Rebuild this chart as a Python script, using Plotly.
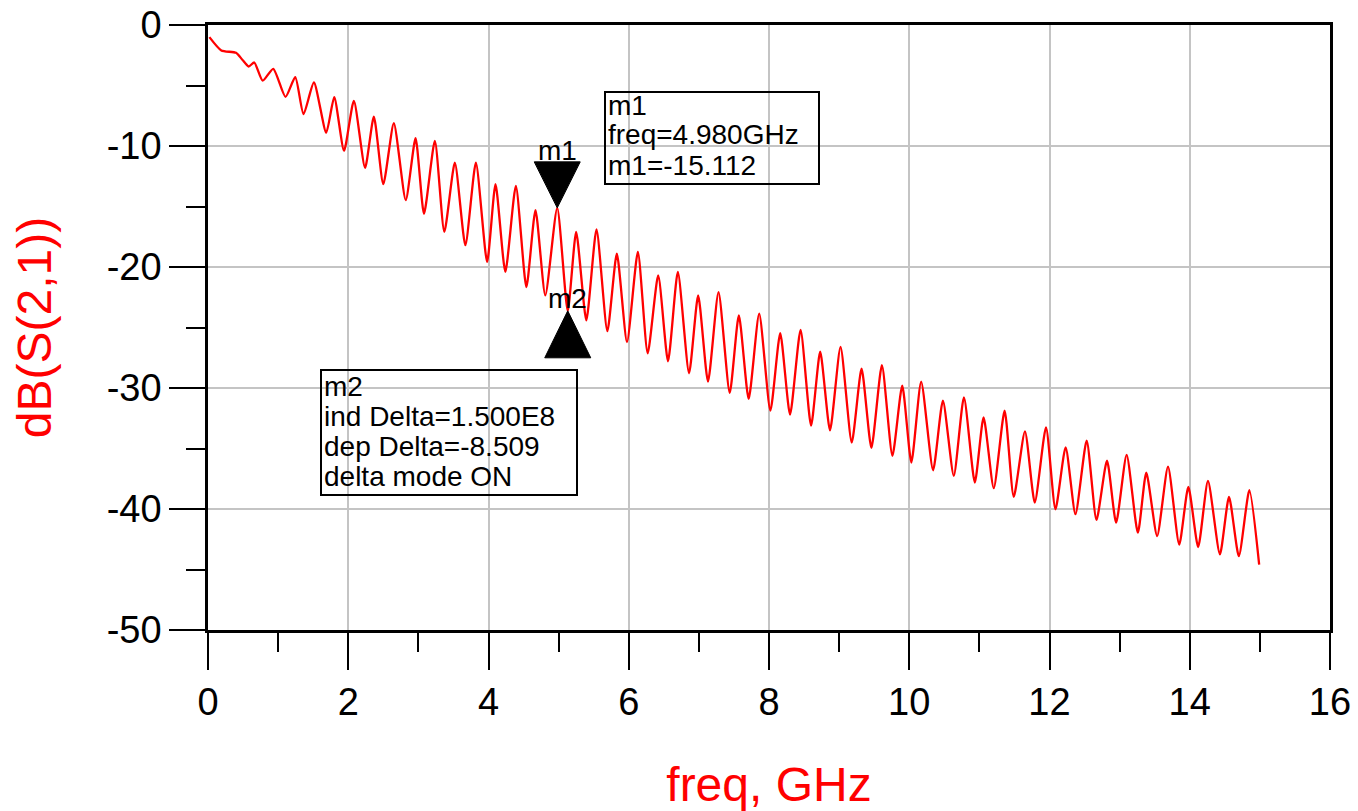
import plotly.graph_objects as go

# ---------------- data ----------------
freq_ghz = [
    0.02, 0.19, 0.40, 0.49, 0.58, 0.66, 0.78, 0.93, 1.105, 1.244,
    1.362, 1.51, 1.686, 1.80, 1.94, 2.08, 2.24, 2.365, 2.50, 2.65,
    2.82, 2.96, 3.08, 3.235, 3.37, 3.52, 3.67, 3.82, 3.98, 4.10,
    4.24, 4.39, 4.54, 4.67, 4.81, 4.98, 5.13, 5.25, 5.395, 5.54,
    5.695, 5.83, 5.975, 6.13, 6.27, 6.42, 6.56, 6.70, 6.86, 6.99,
    7.13, 7.28, 7.44, 7.57, 7.71, 7.86, 8.02, 8.16, 8.30, 8.45,
    8.60, 8.73, 8.87, 9.02, 9.18, 9.32, 9.46, 9.61, 9.76, 9.90,
    10.03, 10.17, 10.34, 10.48, 10.635, 10.78, 10.935, 11.06, 11.205, 11.36,
    11.49, 11.65, 11.79, 11.95, 12.085, 12.23, 12.37, 12.53, 12.67, 12.82,
    12.95, 13.10, 13.26, 13.38, 13.535, 13.69, 13.85, 13.98, 14.12, 14.26,
    14.43, 14.56, 14.70, 14.85, 14.99,
]
s21_db = [
    -1.0, -2.1, -2.3, -2.87, -3.43, -3.1, -4.6, -3.62, -5.94, -4.31,
    -7.37, -4.75, -8.9, -5.97, -10.39, -6.27, -11.8, -7.57, -13.15, -8.12,
    -14.47, -9.36, -15.6, -9.58, -17.1, -11.38, -18.2, -11.38, -19.58, -13.15,
    -20.41, -13.3, -21.66, -15.3, -22.35, -15.112, -23.621, -17.1, -24.4, -16.9,
    -25.3, -18.9, -26.2, -18.76, -27.13, -20.7, -27.79, -20.41, -28.78, -22.35,
    -29.47, -22.07, -30.4, -24.0, -30.9, -23.86, -31.87, -25.47, -32.2, -25.2,
    -33.1, -27.0, -33.5, -26.6, -34.5, -28.4, -34.95, -28.12, -35.6, -29.8,
    -36.16, -29.47, -36.8, -31.04, -37.26, -30.77, -37.81, -32.43, -38.28, -31.87,
    -39.0, -33.59, -39.47, -33.26, -40.02, -34.9, -40.43, -34.36, -40.9, -36.0,
    -41.13, -35.52, -41.96, -37.0, -42.23, -36.5, -42.94, -38.17, -43.14, -37.67,
    -43.75, -39.0, -43.9, -38.45, -44.6,
]

m1_freq_ghz = 4.980
m1_db = -15.112
m2_ind_delta_hz = 1.500e8
m2_dep_delta_db = -8.509

x_tick_vals = [0, 2, 4, 6, 8, 10, 12, 14, 16]
y_tick_vals = [0, -10, -20, -30, -40, -50]

m1_box_lines = ["m1", "freq=4.980GHz", "m1=-15.112"]
m2_box_lines = ["m2", "ind Delta=1.500E8", "dep Delta=-8.509", "delta mode ON"]

# ---------------- derived marker positions ----------------
m2_freq_ghz = m1_freq_ghz + m2_ind_delta_hz / 1e9
m2_db = m1_db + m2_dep_delta_db

FONT = "Liberation Sans, Arial, sans-serif"

# plot area in pixels (for paper-coordinate conversions of the info boxes)
PX_L, PX_R, PX_T, PX_B = 208, 1330, 25, 630


def px(x):
    return (x - PX_L) / (PX_R - PX_L)


def py(y):
    return (PX_B - y) / (PX_B - PX_T)


fig = go.Figure()
fig.add_trace(go.Scatter(
    x=freq_ghz, y=s21_db, mode="lines",
    line=dict(color="#ff0000", width=2.3, shape="spline", smoothing=0.6),
    hoverinfo="x+y", showlegend=False,
))

shapes = []
annotations = []

# marker triangles (pixel-sized, anchored at data points)
shapes.append(dict(type="path", xref="x", yref="y",
                   xsizemode="pixel", ysizemode="pixel",
                   xanchor=m1_freq_ghz, yanchor=m1_db,
                   path="M-23,46 L23,46 L0,0 Z",
                   fillcolor="black", line=dict(color="black", width=1)))
shapes.append(dict(type="path", xref="x", yref="y",
                   xsizemode="pixel", ysizemode="pixel",
                   xanchor=m2_freq_ghz, yanchor=m2_db,
                   path="M-23,-47 L23,-47 L0,0 Z",
                   fillcolor="black", line=dict(color="black", width=1)))

annotations.append(dict(x=m1_freq_ghz, y=m1_db, xref="x", yref="y",
                        text="m1", showarrow=False, yshift=57,
                        font=dict(family=FONT, size=28, color="black")))
annotations.append(dict(x=m2_freq_ghz, y=m2_db, xref="x", yref="y",
                        text="m2", showarrow=False, yshift=12,
                        font=dict(family=FONT, size=28, color="black")))

# info boxes
shapes.append(dict(type="rect", xref="paper", yref="paper",
                   x0=px(605), x1=px(819), y0=py(184), y1=py(92),
                   line=dict(color="black", width=2), fillcolor="rgba(0,0,0,0)"))
shapes.append(dict(type="rect", xref="paper", yref="paper",
                   x0=px(321), x1=px(577), y0=py(495), y1=py(370),
                   line=dict(color="black", width=2), fillcolor="rgba(0,0,0,0)"))

for i, t in enumerate(m1_box_lines):
    annotations.append(dict(x=px(606), y=py(105 + 30 * i), xref="paper", yref="paper",
                            text=t, showarrow=False, xanchor="left", yanchor="middle",
                            font=dict(family=FONT, size=28, color="black")))
for i, t in enumerate(m2_box_lines):
    annotations.append(dict(x=px(322), y=py(386 + 30 * i), xref="paper", yref="paper",
                            text=t, showarrow=False, xanchor="left", yanchor="middle",
                            font=dict(family=FONT, size=28, color="black")))

axis_common = dict(
    showline=True, linecolor="black", linewidth=2.5, mirror=True,
    showgrid=True, gridcolor="#c4c4c4", gridwidth=2,
    zeroline=False, ticks="outside", tickwidth=2, tickcolor="black",
    tickfont=dict(family=FONT, size=38, color="black"),
    automargin=False,
)

fig.update_layout(
    width=1358, height=811,
    margin=dict(l=PX_L, r=1358 - PX_R, t=PX_T, b=811 - PX_B),
    paper_bgcolor="white", plot_bgcolor="white",
    shapes=shapes, annotations=annotations,
    xaxis=dict(
        range=[0, 16], tickvals=x_tick_vals, ticktext=[str(v) for v in x_tick_vals],
        ticklen=37,
        minor=dict(dtick=1, tick0=0, ticklen=19, tickwidth=2, tickcolor="black",
                   ticks="outside", showgrid=False),
        title=dict(text="freq, GHz", font=dict(family=FONT, size=48, color="#ff0000"),
                   standoff=50),
        **axis_common,
    ),
    yaxis=dict(
        range=[-50, 0], tickvals=y_tick_vals, ticktext=[str(v) for v in y_tick_vals],
        ticklen=36,
        minor=dict(dtick=5, tick0=0, ticklen=19, tickwidth=2, tickcolor="black",
                   ticks="outside", showgrid=False),
        title=dict(text="dB(S(2,1))", font=dict(family=FONT, size=48, color="#ff0000"),
                   standoff=40),
        **axis_common,
    ),
)

fig.write_html("out.html")
